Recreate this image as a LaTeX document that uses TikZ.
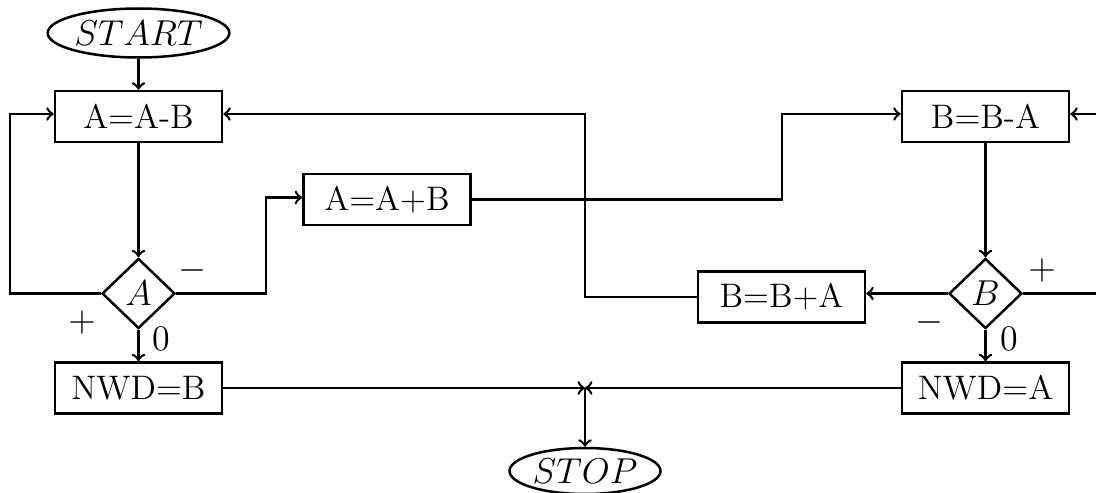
\documentclass[tikz,border=0pt]{standalone}
\usetikzlibrary{shapes.geometric}

\tikzset{
  every node/.style={font=\fontsize{13.6}{16}\selectfont},
  flow/.style={line width=1pt},
  procbox/.style={draw, line width=1pt, rectangle, minimum width=66.8pt, minimum height=20.4pt, inner sep=2pt},
  decision/.style={draw, line width=1pt, diamond, minimum width=29.2pt, minimum height=28pt, inner sep=0pt},
  terminal/.style={draw, line width=1pt, ellipse, inner sep=0pt},
  branchlabel/.style={inner sep=0pt},
}

\begin{document}
\begin{tikzpicture}[x=0.4pt, y=-0.4pt]
  \useasboundingbox (0,0) rectangle (1096,493);
  \clip (0,0) rectangle (1096,493);

  % terminals
  \node[terminal, minimum width=72.4pt, minimum height=19.6pt] (start) at (138.5,33) {$START$};
  \node[terminal, minimum width=60.4pt, minimum height=18.4pt] (stop) at (585,471) {$STOP$};

  % operations
  \node[procbox] (aab) at (138.5,116.5) {A=A-B};
  \node[procbox] (apb) at (387,199.5) {A=A+B};
  \node[procbox] (bba) at (985.5,116.5) {B=B-A};
  \node[procbox] (bpa) at (781.5,297) {B=B+A};
  \node[procbox] (nwdb) at (138.5,388) {NWD=B};
  \node[procbox] (nwda) at (985.5,388) {NWD=A};

  % sign tests
  \node[decision] (dA) at (138.5,293.5) {$A$};
  \node[decision] (dB) at (985.5,293.5) {$B$};

  % branch labels
  \node[branchlabel] (dAminus) at (193,270) {$-$};
  \node[branchlabel] (dAplus) at (82,322) {$+$};
  \node[branchlabel] (dAzero) at (161,339) {$0$};
  \node[branchlabel] (dBplus) at (1042,270) {$+$};
  \node[branchlabel] (dBminus) at (929,322) {$-$};
  \node[branchlabel] (dBzero) at (1009,339) {$0$};

  % routing columns and the merge point
  \coordinate (colL) at (10,0);
  \coordinate (colM1) at (266,0);
  \coordinate (colM2) at (782,0);
  \coordinate (colM3) at (585,0);
  \coordinate (colR) at (1130,0);
  \coordinate (merge) at (nwdb.east -| colM3);

  % connectors
  \draw[flow,->] (start) -- (aab);
  \draw[flow,->] (aab) -- (dA);
  \draw[flow,->] (dA.west) -- (dA.west -| colL) |- ([yshift=1pt]aab.west);
  \draw[flow,->] (dA.east) -- (dA.east -| colM1) |- ([yshift=0.8pt]apb.west);
  \draw[flow,->] (apb.east) -- (apb.east -| colM2) |- ([yshift=1pt]bba.west);
  \draw[flow,->] (bba) -- (dB);
  \draw[flow,->] (dB.west) -- (dB.west -| bpa.east);
  \draw[flow,->] (bpa.west) -- (bpa.west -| colM3) |- ([yshift=1pt]aab.east);
  \draw[flow,->] (dB.east) -- (dB.east -| colR) |- ([yshift=1pt]bba.east);
  \draw[flow,->] (dA) -- (nwdb);
  \draw[flow,->] (dB) -- (nwda);
  \draw[flow,->] (nwdb.east) -- (merge);
  \draw[flow,->] (nwda.west) -- (merge);
  \draw[flow,->] (merge) -- (stop);
\end{tikzpicture}
\end{document}
